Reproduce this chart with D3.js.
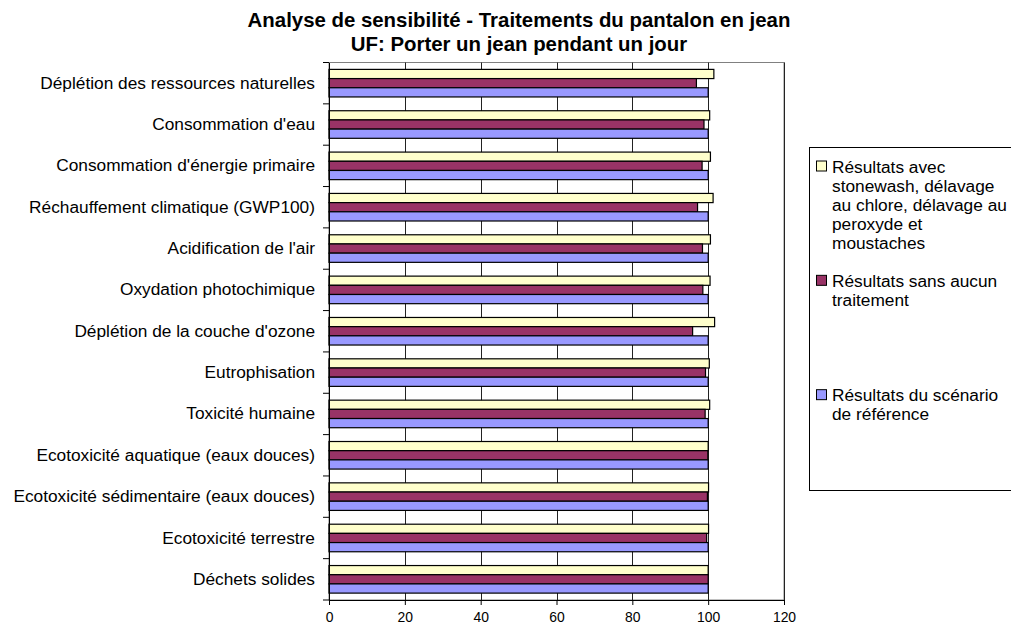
<!DOCTYPE html>
<html lang="fr">
<head>
<meta charset="utf-8">
<script src="https://cdn.jsdelivr.net/npm/d3@7"></script>
<style>
  html, body { margin: 0; padding: 0; background: #fff; }
  svg { display: block; font-family: "Liberation Sans", Arial, sans-serif; }
</style>
</head>
<body>
<svg id="chart" width="1011" height="625"></svg>
<script>
// Impact categories, top to bottom
const categories = [
  "Déplétion des ressources naturelles",
  "Consommation d'eau",
  "Consommation d'énergie primaire",
  "Réchauffement climatique (GWP100)",
  "Acidification de l'air",
  "Oxydation photochimique",
  "Déplétion de la couche d'ozone",
  "Eutrophisation",
  "Toxicité humaine",
  "Ecotoxicité aquatique (eaux douces)",
  "Ecotoxicité sédimentaire (eaux douces)",
  "Ecotoxicité terrestre",
  "Déchets solides"
];

// Series labels (legend order)
const seriesNames = [
  "Résultats avec stonewash, délavage au chlore, délavage au peroxyde et moustaches",
  "Résultats sans aucun traitement",
  "Résultats du scénario de référence"
];
const legendLines = [
  ["Résultats avec", "stonewash, délavage", "au chlore, délavage au", "peroxyde et", "moustaches"],
  ["Résultats sans aucun", "traitement"],
  ["Résultats du scénario", "de référence"]
];
const seriesColors = ["#FFFFCC", "#993366", "#9999FF"];

// Values, % of the reference scenario
const valuesAvecTraitements = [101.5, 100.4, 100.6, 101.3, 100.6, 100.5, 101.7, 100.3, 100.4, 100.0, 100.1, 100.1, 100.0];
const valuesSansTraitement  = [96.9, 98.9, 98.4, 97.2, 98.5, 98.6, 95.9, 99.3, 99.2, 99.9, 99.8, 99.6, 100.0];
const valuesReference       = [100, 100, 100, 100, 100, 100, 100, 100, 100, 100, 100, 100, 100];

const xTicks = [0, 20, 40, 60, 80, 100, 120];

const titleLines = [
  "Analyse de sensibilité - Traitements du pantalon en jean",
  "UF: Porter un jean pendant un jour"
];

const seriesValues = [valuesAvecTraitements, valuesSansTraitement, valuesReference];

const svg = d3.select("#chart");
const plot = { left: 329, right: 784, top: 62.5, bottom: 600 };

const x = d3.scaleLinear().domain([0, 120]).range([plot.left, plot.right]);
const y = d3.scaleBand().domain(categories).range([plot.top, plot.bottom]).padding(0);
const inner = d3.scaleBand().domain(d3.range(seriesNames.length))
  .range([0, y.bandwidth()]).paddingInner(0).paddingOuter(0.75);

// Title
svg.append("g").selectAll("text").data(titleLines).join("text")
  .attr("x", 519)
  .attr("y", (d, i) => 27 + i * 24)
  .attr("text-anchor", "middle")
  .attr("font-weight", "bold")
  .attr("font-size", "20.4px")
  .attr("fill", "#000")
  .text(d => d);

// Plot area border
svg.append("rect")
  .attr("x", plot.left).attr("y", plot.top)
  .attr("width", plot.right - plot.left).attr("height", plot.bottom - plot.top)
  .attr("fill", "#fff").attr("stroke", "#808080").attr("stroke-width", 1);

// Vertical gridlines
svg.append("g").selectAll("line").data(xTicks.filter(t => t > 0)).join("line")
  .attr("x1", d => Math.round(x(d)) + 0.5).attr("x2", d => Math.round(x(d)) + 0.5)
  .attr("y1", plot.top).attr("y2", plot.bottom)
  .attr("stroke", "#222").attr("stroke-width", 1);

// Bars
const groups = svg.append("g").selectAll("g").data(categories).join("g")
  .attr("transform", d => `translate(0,${y(d)})`);

groups.selectAll("rect")
  .data((cat, ci) => seriesValues.map((vals, si) => ({ si, v: vals[ci] })))
  .join("rect")
  .attr("x", x(0))
  .attr("y", d => inner(d.si))
  .attr("width", d => x(d.v) - x(0))
  .attr("height", inner.bandwidth())
  .attr("fill", d => seriesColors[d.si])
  .attr("stroke", "#000")
  .attr("stroke-width", 1.2);

// Category axis: labels at band centres, ticks at band boundaries
const yAxis = svg.append("g")
  .attr("transform", `translate(${plot.left},0)`)
  .call(d3.axisLeft(y).tickSize(0).tickPadding(14));
yAxis.select(".domain").attr("stroke", "#000");
yAxis.selectAll("text").attr("font-size", "17.3px").attr("fill", "#000")
  .attr("font-family", "'Liberation Sans', Arial, sans-serif");

const boundaries = categories.map(c => y(c)).concat([plot.bottom]);
svg.append("g").selectAll("line").data(boundaries).join("line")
  .attr("x1", plot.left - 6).attr("x2", plot.left)
  .attr("y1", d => d).attr("y2", d => d)
  .attr("stroke", "#000");

// Value axis
const xAxis = svg.append("g")
  .attr("transform", `translate(0,${plot.bottom})`)
  .call(d3.axisBottom(x).tickValues(xTicks).tickSize(5).tickSizeOuter(0).tickPadding(7));
xAxis.select(".domain").attr("stroke", "#000");
xAxis.selectAll(".tick line").attr("stroke", "#000");
xAxis.selectAll("text").attr("font-size", "13.9px").attr("fill", "#000")
  .attr("font-family", "'Liberation Sans', Arial, sans-serif");

// Legend: box split into equal slots, one entry at the top of each
const legendBox = { x: 809.5, y: 147.5, w: 220, h: 343 };
const legend = svg.append("g");
legend.append("rect")
  .attr("x", legendBox.x).attr("y", legendBox.y)
  .attr("width", legendBox.w).attr("height", legendBox.h)
  .attr("fill", "#fff").attr("stroke", "#000");

const lineH = 19;
const slot = d3.scaleBand().domain(d3.range(seriesNames.length))
  .range([legendBox.y, legendBox.y + legendBox.h]);
legendLines.forEach((lines, i) => {
  const cy = slot(i) + 19;
  const item = legend.append("g");
  item.append("rect")
    .attr("x", 816.5).attr("y", cy - 5.5).attr("width", 10).attr("height", 10)
    .attr("fill", seriesColors[i]).attr("stroke", "#000");
  item.selectAll("text").data(lines).join("text")
    .attr("x", 832)
    .attr("y", (d, j) => cy + j * lineH)
    .attr("dy", "0.35em")
    .attr("font-size", "17.3px")
    .attr("fill", "#000")
    .text(d => d);
});
</script>
</body>
</html>
